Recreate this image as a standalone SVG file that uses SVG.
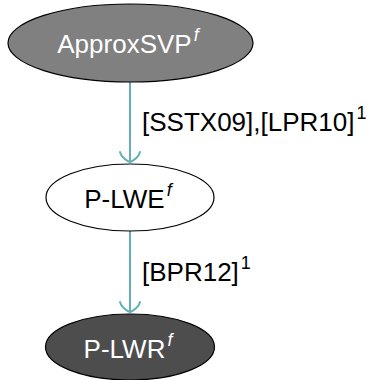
<svg xmlns="http://www.w3.org/2000/svg" width="379" height="380" viewBox="0 0 379 380">
<style>
.t{font-family:"Liberation Sans","DejaVu Sans",sans-serif;font-size:26px}
.n{font-family:"Liberation Sans","DejaVu Sans",sans-serif;font-size:26px}
.sup{font-size:18px;font-style:italic}
.sn{font-size:18px}
.edge{stroke:#62b0b6;stroke-width:2;fill:none}
.node{stroke:#000;stroke-width:1.2}
</style>
<defs>
<marker id="arr" markerUnits="userSpaceOnUse" orient="auto" markerWidth="24" markerHeight="24" refX="0" refY="0" viewBox="-12 -12 24 24" overflow="visible">
<path d="M -10 -10 C -5 -9 -1 -3 0 0 C -1 3 -5 9 -10 10" fill="none" stroke="#62b0b6" stroke-width="2" stroke-linecap="round"/>
</marker>
</defs>
<g id="connectors">
<g id="e1">
<line class="edge" x1="130" y1="82" x2="130" y2="162" marker-end="url(#arr)"/>
<text class="t" x="142" y="131">[SSTX09],[LPR10]<tspan class="sn" dx="2" dy="-12">1</tspan></text>
</g>
<g id="e2">
<line class="edge" x1="130" y1="231" x2="130" y2="312" marker-end="url(#arr)"/>
<text class="t" x="142" y="281">[BPR12]<tspan class="sn" dx="2" dy="-12">1</tspan></text>
</g>
</g>
<g id="approxsvp">
<ellipse class="node" cx="130.5" cy="43" rx="122.5" ry="39" fill="#808080"/>
<text class="n" x="128" y="53" text-anchor="middle" fill="#fff">ApproxSVP<tspan class="sup" dx="2" dy="-12">f</tspan></text>
</g>
<g id="plwe">
<ellipse class="node" cx="130" cy="197.5" rx="84" ry="33.5" fill="#fff"/>
<text class="n" x="128" y="208" text-anchor="middle" fill="#000">P-LWE<tspan class="sup" dx="2" dy="-12">f</tspan></text>
</g>
<g id="plwr">
<ellipse class="node" cx="130" cy="347" rx="84.5" ry="33" fill="#4d4d4d"/>
<text class="n" x="128" y="358" text-anchor="middle" fill="#fff">P-LWR<tspan class="sup" dx="2" dy="-12">f</tspan></text>
</g>
</svg>
